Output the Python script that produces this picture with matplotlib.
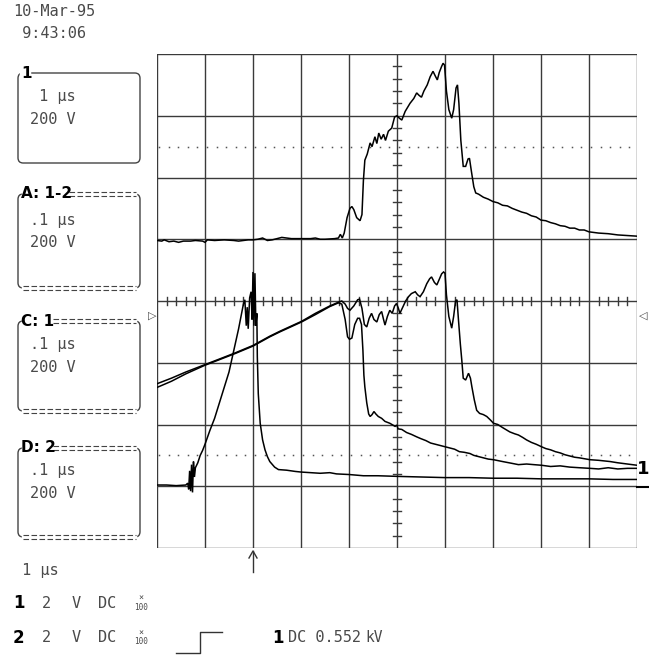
import numpy as np
import matplotlib
matplotlib.use("Agg")
import matplotlib.pyplot as plt
from matplotlib.patches import FancyBboxPatch
from matplotlib.lines import Line2D

# ---- trace data (x in divisions 0..10, y in divisions 0..8 from bottom) ----
# channel 1, 1 us/div (upper trace)
ch1_x = [0.00, 0.10, 0.15, 0.25, 0.35, 0.45, 0.55, 0.70, 0.80, 0.95, 1.00, 1.05,
         1.20, 1.40, 1.60, 1.70, 1.90, 2.00, 2.10, 2.20, 2.30, 2.40, 2.50, 2.60,
         2.70, 2.80, 3.00, 3.20, 3.30, 3.40, 3.50, 3.70, 3.78, 3.82, 3.86, 3.90,
         3.96, 4.02, 4.06, 4.10, 4.16, 4.23, 4.27, 4.30, 4.33, 4.38, 4.44, 4.48,
         4.54, 4.58, 4.62, 4.67, 4.72, 4.76, 4.82, 4.89, 4.95, 5.00, 5.05, 5.10,
         5.17, 5.27, 5.35, 5.41, 5.46, 5.51, 5.56, 5.63, 5.69, 5.75, 5.80, 5.84,
         5.88, 5.93, 5.96, 5.99, 6.03, 6.08, 6.14, 6.18, 6.23, 6.26, 6.29, 6.33,
         6.38, 6.43, 6.48, 6.51, 6.55, 6.60, 6.64, 6.70, 6.80, 6.90, 7.00, 7.10,
         7.20, 7.30, 7.40, 7.50, 7.60, 7.70, 7.80, 7.90, 8.00, 8.10, 8.20, 8.30,
         8.40, 8.50, 8.60, 8.70, 8.80, 8.90, 9.00, 9.20, 9.40, 9.60, 9.80, 10.00]
ch1_y = [4.98, 4.97, 4.99, 4.96, 4.97, 4.95, 4.97, 4.97, 4.98, 4.97, 4.95, 4.99,
         4.98, 4.99, 4.98, 4.97, 4.99, 4.99, 5.00, 5.02, 4.98, 4.99, 5.01, 5.03,
         5.02, 5.01, 5.01, 5.01, 5.02, 5.00, 5.00, 5.01, 5.02, 5.08, 5.02, 5.10,
         5.35, 5.50, 5.53, 5.48, 5.35, 5.30, 5.40, 5.95, 6.28, 6.38, 6.56, 6.50,
         6.66, 6.55, 6.72, 6.62, 6.70, 6.60, 6.75, 6.80, 6.98, 7.00, 6.96, 6.93,
         7.07, 7.20, 7.28, 7.37, 7.33, 7.30, 7.40, 7.50, 7.63, 7.72, 7.64, 7.58,
         7.70, 7.80, 7.85, 7.82, 7.40, 7.10, 6.96, 7.10, 7.45, 7.50, 7.20, 6.60,
         6.18, 6.18, 6.30, 6.31, 6.10, 5.85, 5.75, 5.73, 5.68, 5.65, 5.61, 5.59,
         5.55, 5.54, 5.50, 5.47, 5.44, 5.42, 5.38, 5.36, 5.31, 5.30, 5.27, 5.25,
         5.22, 5.21, 5.18, 5.18, 5.15, 5.15, 5.12, 5.10, 5.09, 5.07, 5.06, 5.05]

# channel 2 zoomed (D)
ch2_x = [0.00, 0.20, 0.40, 0.60, 0.64, 0.66, 0.68, 0.70, 0.72, 0.74, 0.76, 0.78,
         0.80, 0.85, 0.90, 0.95, 1.00, 1.10, 1.20, 1.30, 1.40, 1.50, 1.60, 1.70,
         1.80, 1.83, 1.86, 1.88, 1.90, 1.93, 1.96, 1.98, 2.00, 2.02, 2.04, 2.06,
         2.08, 2.09, 2.11, 2.15, 2.20, 2.25, 2.30, 2.35, 2.45, 2.53, 2.70, 2.88,
         3.00, 3.20, 3.40, 3.60, 3.74, 4.00, 4.30, 4.60, 5.00, 5.50, 6.00, 6.50,
         7.00, 7.50, 8.00, 8.50, 9.00, 9.50, 10.00]
ch2_y = [1.02, 1.02, 1.01, 1.02, 1.05, 0.95, 1.25, 0.92, 1.35, 0.90, 1.40, 1.15,
         1.30, 1.38, 1.50, 1.58, 1.68, 1.90, 2.10, 2.35, 2.60, 2.85, 3.20, 3.55,
         3.95, 4.02, 3.60, 3.90, 3.55, 4.05, 4.15, 3.70, 4.47, 3.60, 4.45, 3.60,
         3.80, 3.10, 2.50, 2.02, 1.75, 1.59, 1.48, 1.40, 1.31, 1.27, 1.26, 1.24,
         1.23, 1.22, 1.21, 1.22, 1.20, 1.19, 1.17, 1.17, 1.16, 1.15, 1.14, 1.14,
         1.13, 1.13, 1.12, 1.12, 1.12, 1.11, 1.11]

# channel 1 zoomed (C) - early fall
ch1z_x = [0.00, 0.30, 0.60, 1.00, 1.30, 1.63, 2.00, 2.35, 2.56, 3.01, 3.30, 3.60,
          3.78, 3.85, 3.92, 3.97, 4.01, 4.06, 4.12, 4.18, 4.22, 4.26, 4.29, 4.31,
          4.33, 4.37, 4.41, 4.44, 4.48, 4.52, 4.56, 4.61, 4.68, 4.75, 4.85, 4.96,
          5.00, 5.02, 5.10, 5.20, 5.30, 5.41, 5.50, 5.60, 5.70, 5.80, 5.90, 6.00,
          6.10, 6.20, 6.30, 6.40, 6.52, 6.60, 6.70, 6.80, 6.90, 7.01, 7.20, 7.40,
          7.53, 7.70, 7.85, 8.01, 8.20, 8.40, 8.60, 8.80, 9.02, 9.20, 9.40, 9.60,
          9.80, 10.00]
ch1z_y = [2.60, 2.70, 2.82, 2.96, 3.05, 3.15, 3.27, 3.42, 3.50, 3.66, 3.78, 3.91,
          3.97, 3.95, 3.70, 3.42, 3.38, 3.40, 3.62, 3.72, 3.72, 3.62, 3.20, 2.80,
          2.61, 2.35, 2.17, 2.13, 2.16, 2.21, 2.17, 2.13, 2.10, 2.05, 2.02, 1.97,
          1.99, 1.93, 1.92, 1.87, 1.84, 1.80, 1.77, 1.74, 1.70, 1.68, 1.66, 1.64,
          1.62, 1.60, 1.56, 1.55, 1.53, 1.50, 1.48, 1.46, 1.44, 1.43, 1.40, 1.37,
          1.35, 1.36, 1.35, 1.34, 1.32, 1.33, 1.31, 1.30, 1.29, 1.28, 1.30, 1.28,
          1.29, 1.29]

# difference 1-2 (A) - late fall
diff_x = [0.00, 0.30, 0.60, 1.00, 1.30, 1.63, 2.00, 2.35, 2.56, 3.01, 3.30, 3.60,
          3.78, 3.85, 3.92, 3.97, 4.02, 4.10, 4.18, 4.22, 4.27, 4.32, 4.37, 4.42,
          4.47, 4.52, 4.58, 4.63, 4.68, 4.72, 4.75, 4.80, 4.85, 4.90, 4.95, 4.99,
          5.03, 5.06, 5.12, 5.18, 5.24, 5.30, 5.38, 5.43, 5.48, 5.55, 5.62, 5.68,
          5.72, 5.78, 5.83, 5.88, 5.93, 5.97, 6.00, 6.03, 6.08, 6.14, 6.18, 6.22,
          6.25, 6.28, 6.32, 6.35, 6.38, 6.43, 6.49, 6.53, 6.56, 6.61, 6.66, 6.72,
          6.80, 6.87, 6.95, 7.01, 7.10, 7.20, 7.35, 7.45, 7.53, 7.62, 7.70, 7.80,
          7.90, 8.01, 8.10, 8.20, 8.30, 8.40, 8.50, 8.60, 8.70, 8.80, 9.02, 9.20,
          9.44, 9.60, 9.80, 10.00]
diff_y = [2.66, 2.75, 2.85, 2.97, 3.06, 3.16, 3.28, 3.43, 3.51, 3.67, 3.80, 3.92,
          3.98, 4.00, 3.95, 3.88, 3.85, 3.92, 4.02, 4.03, 3.88, 3.62, 3.58, 3.72,
          3.80, 3.70, 3.66, 3.78, 3.83, 3.70, 3.61, 3.75, 3.85, 3.80, 3.92, 3.96,
          3.88, 3.80, 3.90, 4.00, 4.07, 4.12, 4.15, 4.10, 4.07, 4.15, 4.28, 4.36,
          4.39, 4.30, 4.26, 4.35, 4.44, 4.47, 4.45, 4.10, 3.75, 3.56, 3.75, 4.00,
          4.02, 3.70, 3.30, 3.04, 2.75, 2.72, 2.83, 2.75, 2.61, 2.40, 2.23, 2.18,
          2.16, 2.13, 2.07, 2.02, 2.00, 1.95, 1.88, 1.85, 1.83, 1.79, 1.75, 1.71,
          1.68, 1.64, 1.61, 1.59, 1.56, 1.54, 1.51, 1.49, 1.47, 1.46, 1.43, 1.42,
          1.40, 1.38, 1.36, 1.34]

W, H = 649, 658
GRID = "#3a3a3a"
TXT = "#4a4a4a"
MONO = "DejaVu Sans Mono"
BOLD = "DejaVu Sans"


def fx(x):
    return x / W


def fy(y):
    return 1 - y / H


fig = plt.figure(figsize=(W / 100, H / 100), dpi=100)
ax = fig.add_axes([fx(157), fy(548), 480 / W, 494 / H])
ax.set_xlim(0, 10)
ax.set_ylim(0, 8)
ax.axis("off")

# graticule
for i in range(11):
    ax.axvline(i, color=GRID, lw=1.0, zorder=1)
for j in range(9):
    ax.axhline(j, color=GRID, lw=1.0, zorder=1)

# centre cross ticks
for t in np.arange(0.2, 10, 0.2):
    if abs(t - round(t)) > 0.05:
        ax.plot([t, t], [4 - 0.065, 4 + 0.065], color=GRID, lw=1.0, zorder=1)
for t in np.arange(0.2, 8, 0.2):
    if abs(t - round(t)) > 0.05:
        ax.plot([5 - 0.085, 5 + 0.085], [t, t], color=GRID, lw=1.0, zorder=1)

# dotted reference lines
dots = np.arange(0.04, 10, 0.2)
for lvl in (6.5, 1.5):
    ax.plot(dots, np.full_like(dots, lvl), ls="none", marker="s", ms=1.1,
            mew=0, color="#555555", zorder=1)

# traces
for xs, ys in [(ch1_x, ch1_y), (ch1z_x, ch1z_y), (diff_x, diff_y), (ch2_x, ch2_y)]:
    ax.plot(xs, ys, color="black", lw=1.1, zorder=3, solid_joinstyle="miter")


# ---- text around the screen ----
def t(x, y, s, size=11, weight="normal", family=MONO, **kw):
    fig.text(fx(x), fy(y), s, fontsize=size, fontweight=weight, family=family,
             color=kw.pop("color", TXT), va="center", ha=kw.pop("ha", "left"), **kw)


def fline(xs, ys, **kw):
    fig.lines.append(Line2D([fx(v) for v in xs], [fy(v) for v in ys],
                            transform=fig.transFigure, **kw))


def dbl(x0, x1, y):
    for dy in (-1.6, 1.6):
        fline([x0, x1], [y + dy, y + dy], color="#444444", lw=0.8,
              ls=(0, (5, 2.2)))


t(13, 12, "10-Mar-95")
t(13, 33, " 9:43:06")


def box(top, bottom, label, dashed, dash_start=0):
    left, right = 18, 140
    p = FancyBboxPatch((fx(left), fy(bottom)), fx(right - left), (bottom - top) / H,
                       boxstyle="round,pad=0,rounding_size=0.008",
                       transform=fig.transFigure, fill=False, ec="#444444", lw=1.0)
    fig.patches.append(p)
    if dashed:
        for yy in (top, bottom):
            fline([left + 5, right - 5], [yy, yy], color="white", lw=2.5)
        dbl(left + 5, right - 4, bottom)
        dbl(dash_start, right - 4, top)
    else:
        fline([left + 3, left + 11], [top, top], color="white", lw=2.5)
    t(left + 3, top, label, size=11, weight="bold", family=BOLD, color="black")


box(73, 163, "1", False)
t(30, 97, " 1 µs")
t(30, 119, "200 V")

box(194, 288, "A: 1-2", True, 69)
t(30, 221, ".1 µs")
t(30, 243, "200 V")

box(321, 411, "C: 1", True, 53)
t(30, 344, ".1 µs")
t(30, 367, "200 V")

box(448, 537, "D: 2", True, 53)
t(30, 470, ".1 µs")
t(30, 493, "200 V")

# trigger level markers
t(152, 316, "▷", size=8, ha="center", family="DejaVu Sans")
t(643, 316, "◁", size=8, ha="center", family="DejaVu Sans")

# channel 1 ground marker at right edge
t(643, 469, "1", size=13, weight="bold", family=BOLD, ha="center",
  color="black")
fline([637, 649], [487, 487], color="black", lw=1.5)

# trigger position arrow under the grid
fline([253, 253], [551, 572], color="#333333", lw=1.0)
fline([249, 253, 257], [558, 551, 558], color="#333333", lw=1.0)

# bottom status lines
t(13, 570, " 1 µs")
for row_y, ch in ((603, "1"), (638, "2")):
    t(13, row_y, ch, size=12, weight="bold", family=BOLD, color="black")
    t(42, row_y, "2")
    t(72, row_y, "V")
    t(98, row_y, "DC")
    t(141, row_y - 5, "×", size=6, ha="center")
    t(141, row_y + 4, "100", size=5.5, ha="center")

# trigger slope symbol
fline([176, 200, 200, 222], [653, 653, 632, 632], color="#333333", lw=1.0)
t(272, 638, "1", size=12, weight="bold", family=BOLD, color="black")
t(288, 638, "DC 0.552")
t(365, 638, "kV", size=10.5)

fig.savefig("out.png", dpi=100, facecolor="white")
